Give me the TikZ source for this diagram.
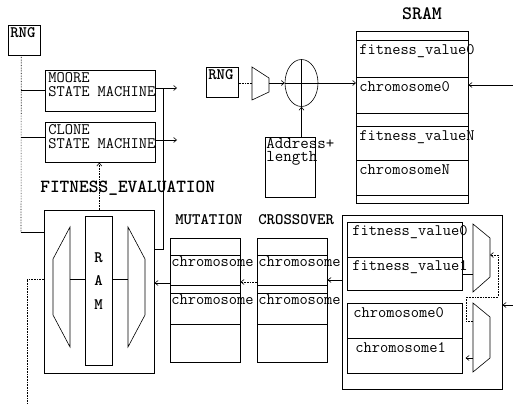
\documentclass[tikz,border=0pt]{standalone}
\usetikzlibrary{arrows.meta,shapes.geometric}
\newcommand\tsz{\ttfamily\fontsize{16}{14}\selectfont}

\begin{document}
\begin{tikzpicture}[x=1pt, y=-1pt, line width=0.6pt, >={Straight Barb[length=3pt,width=5pt]},
		box/.style 2 args={draw, anchor=north west, inner sep=0pt, minimum width=#1, minimum height=#2},
		tag/.style={anchor=north west, inner sep=3pt, align=left, font=\tsz},
		head/.style={anchor=base west, inner sep=0pt, font=\tsz\bfseries},
		lnk/.style={densely dotted}]
		\useasboundingbox (0,0) rectangle (513,404);
		\node[box={32pt}{30pt}, label={[tag, font=\tsz\bfseries, inner sep=2pt]north west:RNG}] (rngA) at (8,25) {};
		\node[box={110pt}{41pt}, label={[tag, inner ysep=2pt]north west:MOORE\\STATE MACHINE}] (moore) at (45,70) {};
		\node[box={110pt}{40pt}, label={[tag, inner ysep=2pt]north west:CLONE\\STATE MACHINE}] (clone) at (45,122) {};
		\node[head, font=\ttfamily\bfseries\fontsize{18.5}{20}\selectfont] (fetitle) at (40,192) {FITNESS\_EVALUATION};
		\node[box={110pt}{163pt}] (fe) at (44,210) {};
		\node[box={27pt}{149pt}] (ram) at (85,216) {};
		\node[align=center, inner sep=0pt, font=\ttfamily\bfseries\fontsize{16}{23.5}\selectfont] (ramtxt) at (98.5,281) {R\\A\\M};
		\draw (70,227) -- (53,259) -- (53,315) -- (70,347) -- cycle;
		\draw (128,227) -- (145,259) -- (145,315) -- (128,347) -- cycle;
		\coordinate (trL) at (70,279);
		\coordinate (trR) at (128,279);
		\draw (trL) -- (ram.west |- trL);
		\draw (ram.east |- trR) -- (trR);
		\coordinate (mooreOut) at (177,88);
		\coordinate (cloneOut) at (177,140);
		\draw[->] (moore.east |- mooreOut) -- (mooreOut);
		\draw[->] (clone.east |- cloneOut) -- (cloneOut);
		\draw (fe.east |- 0,249) -- (163,249) -- (163,88);
		\draw[lnk, ->] (fe.north) -- (fe.north |- clone.south);
		\draw[lnk] ([xshift=-3pt]rngA.south) -- (21,232);
		\draw (21,232) -- (fe.west |- 0,232);
		\draw (21,90) -- (moore.west |- 0,90);
		\draw (21,137) -- (clone.west |- 0,137);
		\draw[lnk] (fe.west |- 0,279) -- (27,279) -- (27,404);

		\node[head] (mutt) at (175,224) {MUTATION};
		\node[head] (crot) at (258,224) {CROSSOVER};
		\foreach \c/\x in {mu/170,cr/257} {
			\node[box={70pt}{17pt}] (\c0) at (\x,238) {};
			\node[box={70pt}{30pt}, label={[tag, inner sep=1pt]north west:chromosome}] (\c1) at (\x,255) {};
			\node[box={70pt}{8pt}] (\c2) at (\x,285) {};
			\node[box={70pt}{31pt}, label={[tag, inner sep=1pt]north west:chromosome}] (\c3) at (\x,293) {};
			\node[box={70pt}{38pt}] (\c4) at (\x,324) {};
		}
		\draw[->] (mu1.west |- 0,283) -- (fe.east |- 0,283);
		\draw[lnk, ->] (cr1.west |- 0,282) -- (mu1.east |- 0,282);

		\node[head, anchor=base, font=\ttfamily\bfseries\fontsize{19}{20}\selectfont] (sramt) at (422,20) {SRAM};
		\node[box={112pt}{9pt}] (s0) at (356,31) {};
		\node[box={112pt}{37pt}, label={[tag, inner ysep=4pt]north west:fitness\_value0}] (fv0) at (356,40) {};
		\node[box={112pt}{36pt}, label={[tag, inner ysep=4pt]north west:chromosome0}] (ch0) at (356,77) {};
		\node[box={112pt}{13pt}] (s1) at (356,113) {};
		\node[box={112pt}{34pt}, label={[tag, inner ysep=4pt]north west:fitness\_valueN}] (fvN) at (356,126) {};
		\node[box={112pt}{35pt}, label={[tag, inner ysep=4pt]north west:chromosomeN}] (chN) at (356,160) {};
		\node[box={112pt}{8pt}] (s2) at (356,195) {};
		\coordinate (srIn) at (513,85);
		\draw[->] (srIn) -- (srIn -| ch0.east);

		\node[box={32pt}{30pt}, label={[tag, font=\tsz\bfseries, inner sep=2pt]north west:RNG}] (rngB) at (206,67) {};
		\draw (252,67) -- (269,78) -- (269,92) -- (252,100) -- cycle;
		\coordinate (adin) at (252,83);
		\coordinate (adout) at (269,83);
		\node[draw, ellipse, inner sep=0pt, minimum width=33pt, minimum height=47pt] (add) at (301.5,83) {};
		\node[box={50pt}{60pt}, label={[tag, inner sep=1pt, font=\ttfamily\fontsize{16.5}{13}\selectfont]north west:Address+\\length}] (adr) at (265,137) {};
		\draw[lnk] (rngB.east |- adin) -- (adin);
		\draw[->] (adout) -- (add.west);
		\draw (add.west) -- (add.east);
		\draw (add.north) -- (add.south);
		\draw[->] (add.east) -- (add.east -| ch0.west);
		\draw[->] (add.south |- adr.north) -- (add.south);

		\node[box={160pt}{174pt}] (sel) at (342,215) {};
		\node[box={115pt}{35pt}, label={[tag, inner xsep=5pt]north west:fitness\_value0}] (f0) at (347,222) {};
		\node[box={115pt}{33pt}, label={[tag, inner xsep=5pt]north west:fitness\_value1}] (f1) at (347,257) {};
		\node[box={115pt}{35pt}, label={[tag, inner xsep=6pt, inner ysep=4pt]north west:chromosome0}] (k0) at (347,303) {};
		\node[box={115pt}{35pt}, label={[tag, inner xsep=8pt, inner ysep=4pt]north west:chromosome1}] (k1) at (347,338) {};
		\draw (473,224) -- (490,238) -- (490,277) -- (473,292) -- cycle;
		\draw (473,303) -- (490,317) -- (490,358) -- (473,372) -- cycle;
		\coordinate (muAin) at (473,274);
		\coordinate (muAsel) at (490,255);
		\coordinate (muBsel) at (473,321);
		\coordinate (muBout) at (473,358);
		\draw (f1.east |- muAin) -- (muAin);
		\draw[lnk, ->] (muBsel) -- (466,321) -- (466,297) -- (498,297) -- (498,255) -- (muAsel);
		\draw[->] (muBout) -- ([xshift=3pt]k1.east |- muBout);
		\coordinate (selIn) at (513,305);
		\draw[->] (selIn) -- (selIn -| sel.east);
		\draw[->] (sel.west |- 0,280) -- (cr1.east |- 0,280);
	\end{tikzpicture}
\end{document}
